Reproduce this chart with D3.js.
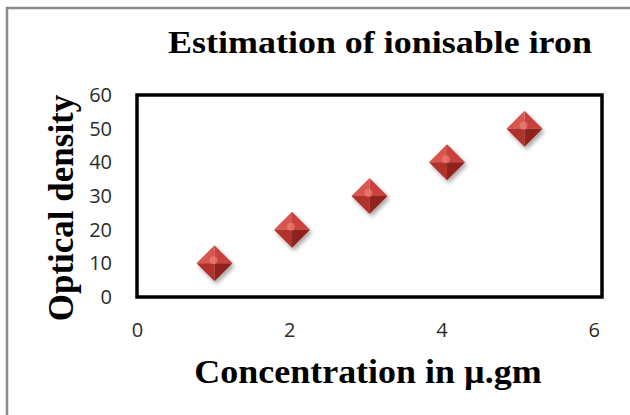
<!DOCTYPE html>
<html><head><meta charset="utf-8">
<script src="https://cdn.jsdelivr.net/npm/d3@7"></script>
<style>body{margin:0;background:#fff}svg{display:block}</style>
</head><body>
<script>
const concentration = [1, 2, 3, 4, 5];
const opticalDensity = [10, 20, 30, 40, 50];
const xTicks = [0, 2, 4, 6];
const yTicks = [0, 10, 20, 30, 40, 50, 60];
const titleText = "Estimation of ionisable iron";
const xLabel = "Concentration in µ.gm";
const yLabel = "Optical density";

const W = 630, H = 415;
const svg = d3.select("body").append("svg").attr("width", W).attr("height", H);
const defs = svg.append("defs");
const f = defs.append("filter").attr("id", "sh").attr("x", "-50%").attr("y", "-50%").attr("width", "200%").attr("height", "200%");
f.append("feDropShadow").attr("dx", 2).attr("dy", 3).attr("stdDeviation", 2).attr("flood-color", "#000").attr("flood-opacity", 0.35);

// outer chart border
svg.append("rect").attr("x", 7).attr("y", 8).attr("width", 640).attr("height", 420)
  .attr("fill", "#fff").attr("stroke", "#8c8c8c").attr("stroke-width", 2.5);

const L = 137, R = 602, T = 95, B = 297;
const x = d3.scaleLinear().domain([0, 6]).range([L, R]);
const y = d3.scaleLinear().domain([0, 60]).range([B, T]);

// plot area border
svg.append("rect").attr("x", L).attr("y", T).attr("width", R - L).attr("height", B - T)
  .attr("fill", "#fff").attr("stroke", "#000").attr("stroke-width", 3.5);

const tickFont = "'Open Sans', 'Liberation Sans', sans-serif";
const xAxis = svg.append("g").attr("transform", `translate(0,${B + 23})`)
  .call(d3.axisBottom(x).tickValues(xTicks).tickSize(0).tickFormat(d3.format("d")));
xAxis.select(".domain").remove();
xAxis.attr("font-size", null).attr("font-family", null);
xAxis.selectAll("text").style("font-family", tickFont).style("font-size", "20px").attr("fill", "#2b2b2b")
  .attr("dx", d => -d * 1.4);

const yAxis = svg.append("g").attr("transform", `translate(${L - 22},0)`)
  .call(d3.axisLeft(y).tickValues(yTicks).tickSize(0).tickFormat(d3.format("d")));
yAxis.select(".domain").remove();
yAxis.attr("font-size", null).attr("font-family", null);
yAxis.selectAll("text").style("font-family", tickFont).style("font-size", "20px").attr("fill", "#2b2b2b").attr("dx", 0);

// markers
const s = 18;
const pts = concentration.map((c, i) => ({ c, v: opticalDensity[i] }));
const mk = svg.append("g").selectAll("g").data(pts).join("g")
  .attr("transform", d => `translate(${x(d.c)},${y(d.v)})`)
  .attr("filter", "url(#sh)");
const facets = [
  { p: [[0, -s], [s, 0], [0, 0]], c: "#c9413c" },
  { p: [[0, -s], [-s, 0], [0, 0]], c: "#d9574f" },
  { p: [[-s, 0], [0, s], [0, 0]], c: "#b1302b" },
  { p: [[s, 0], [0, s], [0, 0]], c: "#8f231f" }
];
facets.forEach(fc => {
  mk.append("path").attr("d", "M" + fc.p.map(q => q.join(",")).join("L") + "Z").attr("fill", fc.c);
});
mk.append("circle").attr("r", 4).attr("cx", -1).attr("cy", -3).attr("fill", "#f08a84").attr("opacity", 0.55);

const serif = "'Liberation Serif', 'Times New Roman', serif";
svg.append("text").attr("transform", "translate(380,53) scale(1.16,1)").attr("text-anchor", "middle")
  .attr("font-family", serif).attr("font-weight", "bold").attr("font-size", 31).text(titleText);
svg.append("text").attr("transform", "translate(368,383) scale(1.09,1)").attr("text-anchor", "middle")
  .attr("font-family", serif).attr("font-weight", "bold").attr("font-size", 33).text(xLabel);
svg.append("text").attr("transform", "translate(73,208) rotate(-90)").attr("text-anchor", "middle")
  .attr("font-family", serif).attr("font-weight", "bold").attr("font-size", 35).text(yLabel);
</script>
</body></html>
